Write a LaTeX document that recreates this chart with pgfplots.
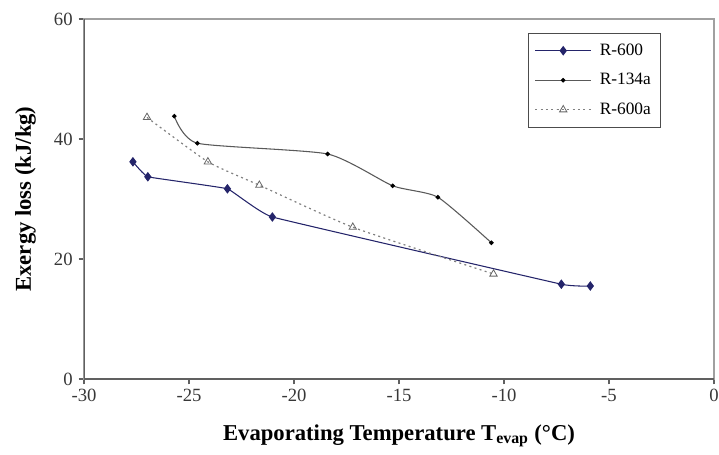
\documentclass[border=0pt]{standalone}
\usepackage{fontspec}
\setmainfont{Liberation Serif}
\usepackage{pgfplots}
\pgfplotsset{compat=1.18}
\definecolor{navy}{HTML}{24246A}
\definecolor{axdark}{HTML}{606060}
\definecolor{axlight}{HTML}{A0A0A0}
\definecolor{lgray}{HTML}{808080}
\begin{document}
\begin{tikzpicture}
\begin{axis}[
  scale only axis,
  width=472.5pt, height=270pt,
  xmin=-30, xmax=0, ymin=0, ymax=60,
  xtick={-30,-25,-20,-15,-10,-5,0},
  xticklabels={-30,-25,-20,-15,-10,-5,0},
  ytick={0,20,40,60},
  yticklabels={0,20,40,60},
  axis line style={axlight, line width=1pt},
  tick style={axdark, line width=1pt},
  tick align=outside, tick pos=left,
  major tick length=4pt,
  ticklabel style={font=\fontsize{14}{16}\selectfont, text=black!78},
  yticklabel style={xshift=-1pt},
  xlabel={\textbf{Evaporating Temperature T\textsubscript{evap} (°C)}},
  ylabel={\textbf{Exergy loss (kJ/kg)}},
  label style={font=\fontsize{17}{20}\selectfont},
  xlabel style={at={(axis description cs:0.5,-0.170)}, anchor=base},
  ylabel style={at={(axis description cs:-0.0844,0.5)}, anchor=base, rotate=0},
  legend style={at={(0.915,0.961)}, anchor=north east, draw=black!70,
    font=\fontsize{13}{15}\selectfont, row sep=8pt, inner xsep=5pt, inner ysep=6pt},
  legend cell align=left,
  legend image code/.code={\draw[mark repeat=2, mark phase=2]
    plot coordinates {(0pt,0pt)(21pt,0pt)(42pt,0pt)};},
]
\draw[axdark, line width=1.1pt] (rel axis cs:0,1) -- (rel axis cs:0,0) -- (rel axis cs:1,0);
\addplot[navy, line width=0.8pt, smooth, tension=0.13, mark=diamond*, mark size=3pt,
  mark options={fill=navy, solid}]
  coordinates {(-27.67,36.2)(-26.96,33.7)(-23.17,31.7)(-21.03,27.0)(-7.27,15.8)(-5.89,15.5)};
\addlegendentry{\hspace{4pt}R-600\hspace{5pt}}
\addplot[black!65, line width=0.8pt, smooth, tension=0.35, mark=*, mark size=1.3pt,
  mark options={fill=black, draw=black, solid}]
  coordinates {(-25.7,43.8)(-24.6,39.3)(-18.4,37.5)(-15.3,32.2)(-13.15,30.3)(-10.6,22.7)};
\addlegendentry{\hspace{4pt}R-134a\hspace{5pt}}
\addplot[lgray, line width=0.9pt, dash pattern=on 1.5pt off 2.5pt, smooth, tension=0.3,
  mark=triangle, mark size=3.2pt, mark options={solid, draw=black!60, line width=0.6pt}]
  coordinates {(-27.0,43.6)(-24.1,36.2)(-21.65,32.3)(-17.2,25.3)(-10.5,17.5)};
\addlegendentry{\hspace{4pt}R-600a\hspace{5pt}}
\end{axis}
\pgfresetboundingbox
\useasboundingbox ([xshift=-63pt,yshift=-56.25pt]current axis.south west)
  rectangle ([xshift=3.75pt,yshift=14.25pt]current axis.north east);
\end{tikzpicture}
\end{document}
